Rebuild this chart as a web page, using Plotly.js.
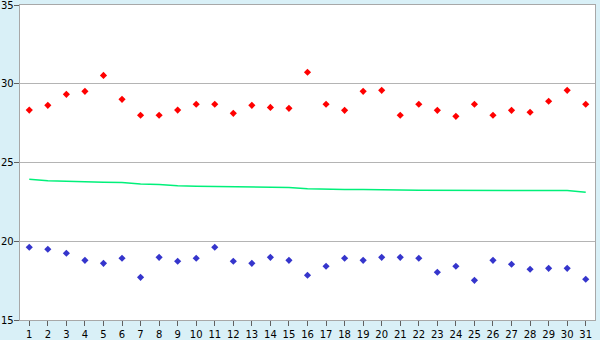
<!DOCTYPE html>
<html>
<head>
<meta charset="utf-8">
<script src="https://cdn.plot.ly/plotly-3.0.1.min.js"></script>
<style>
html,body{margin:0;padding:0;background:#d9f0f7;}
#chart{width:600px;height:340px;}
</style>
</head>
<body>
<div id="chart"></div>
<script>
var days = [1,2,3,4,5,6,7,8,9,10,11,12,13,14,15,16,17,18,19,20,21,22,23,24,25,26,27,28,29,30,31];
var dayLabels = ['1','2','3','4','5','6','7','8','9','10','11','12','13','14','15','16','17','18','19','20','21','22','23','24','25','26','27','28','29','30','31'];
var maxTemps = [28.33,28.63,29.33,29.52,30.53,29.01,28.0,28.0,28.33,28.70,28.70,28.12,28.63,28.50,28.44,30.73,28.70,28.31,29.52,29.58,28.0,28.70,28.31,27.93,28.70,28.0,28.31,28.19,28.89,29.58,28.70];
var minTemps = [19.62,19.49,19.24,18.79,18.60,18.92,17.71,18.98,18.73,18.92,19.62,18.73,18.60,18.98,18.79,17.84,18.41,18.92,18.79,18.98,18.98,18.92,18.03,18.41,17.52,18.79,18.54,18.22,18.28,18.28,17.59];
var avgTemps = [23.93,23.84,23.81,23.76,23.74,23.73,23.64,23.60,23.52,23.49,23.48,23.45,23.43,23.42,23.41,23.33,23.30,23.29,23.29,23.29,23.26,23.24,23.24,23.24,23.24,23.24,23.24,23.24,23.24,23.22,23.11];
var yTicks = [15,20,25,30,35];

var traces = [
  {x: days, y: avgTemps, type:'scatter', mode:'lines', line:{color:'#00f07a', width:1.5}, hoverinfo:'skip'},
  {x: days, y: maxTemps, type:'scatter', mode:'markers', marker:{symbol:'diamond', size:5.5, color:'#ff0000'}},
  {x: days, y: minTemps, type:'scatter', mode:'markers', marker:{symbol:'diamond', size:5.5, color:'#3535cc'}}
];
var yLabelAnnotations = yTicks.map(function(v){
  return {xref:'paper', yref:'y', x:0, y:v, text:String(v), showarrow:false,
          xanchor:'right', yanchor:'middle', xshift:-5, yshift:0, borderpad:0,
          font:{family:'DejaVu Sans, Verdana, sans-serif', size:10, color:'#000000'}};
});
var layout = {
  width:600, height:340,
  margin:{l:20, r:5, t:5, b:20},
  paper_bgcolor:'#d9f0f7',
  plot_bgcolor:'#ffffff',
  showlegend:false,
  font:{family:'DejaVu Sans, Verdana, sans-serif', size:10, color:'#000000'},
  xaxis:{
    range:[0.5,31.5], tickvals:days, ticktext:dayLabels,
    showgrid:false, zeroline:false,
    showline:true, linecolor:'#a8a8a8', linewidth:1, mirror:true,
    ticks:'outside', ticklen:5, tickcolor:'#606060', tickwidth:1,
    fixedrange:true
  },
  yaxis:{
    range:[15,35], tickvals:yTicks, showticklabels:false,
    showgrid:true, gridcolor:'#b4b4b4', gridwidth:1, zeroline:false,
    showline:true, linecolor:'#a8a8a8', linewidth:1, mirror:true,
    ticks:'outside', ticklen:5, tickcolor:'#606060', tickwidth:1,
    fixedrange:true
  },
  annotations: yLabelAnnotations
};
Plotly.newPlot('chart', traces, layout, {displayModeBar:false, staticPlot:true});
</script>
</body>
</html>
